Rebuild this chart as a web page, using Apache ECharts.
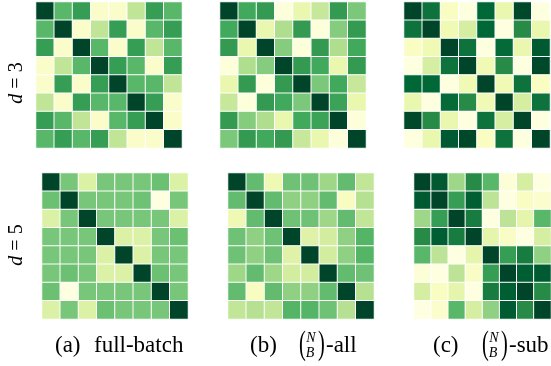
<!DOCTYPE html>
<html>
<head>
<meta charset="utf-8">
<script src="https://cdn.jsdelivr.net/npm/echarts@6/dist/echarts.min.js"></script>
<style>
  html, body { margin: 0; padding: 0; background: #ffffff; }
  #chart { width: 551px; height: 366px; }
</style>
</head>
<body>
<div id="chart"></div>
<script>
// Index labels shared by rows and columns of every matrix
const indices = ['0', '1', '2', '3', '4', '5', '6', '7'];

// d = 3, full-batch
const fullBatchD3 = [
  [1.00, 0.57, 0.67, 0.08, 0.08, 0.32, 0.67, 0.57],
  [0.57, 1.00, 0.08, 0.32, 0.67, 0.08, 0.57, 0.67],
  [0.67, 0.08, 1.00, 0.57, 0.08, 0.67, 0.32, 0.57],
  [0.08, 0.32, 0.57, 1.00, 0.67, 0.57, 0.08, 0.67],
  [0.08, 0.67, 0.08, 0.67, 1.00, 0.57, 0.57, 0.32],
  [0.32, 0.08, 0.67, 0.57, 0.57, 1.00, 0.67, 0.08],
  [0.67, 0.57, 0.32, 0.08, 0.57, 0.67, 1.00, 0.08],
  [0.57, 0.67, 0.57, 0.67, 0.32, 0.08, 0.08, 1.00]
];

// d = 3, (N choose B)-all
const allBatchesD3 = [
  [1.00, 0.63, 0.68, 0.03, 0.18, 0.30, 0.68, 0.49],
  [0.63, 1.00, 0.18, 0.37, 0.68, 0.03, 0.47, 0.68],
  [0.68, 0.18, 1.00, 0.47, 0.03, 0.68, 0.37, 0.63],
  [0.03, 0.37, 0.47, 1.00, 0.68, 0.63, 0.18, 0.68],
  [0.18, 0.68, 0.03, 0.68, 1.00, 0.49, 0.63, 0.30],
  [0.30, 0.03, 0.68, 0.63, 0.49, 1.00, 0.65, 0.18],
  [0.68, 0.47, 0.37, 0.18, 0.63, 0.65, 1.00, 0.03],
  [0.49, 0.68, 0.63, 0.68, 0.30, 0.18, 0.03, 1.00]
];

// d = 3, (N choose B)-sub
const subBatchesD3 = [
  [1.00, 0.83, 0.10, 0.02, 0.875, 0.18, 0.99, 0.02],
  [0.83, 1.00, 0.15, 0.26, 0.875, 0.02, 0.73, 0.18],
  [0.10, 0.15, 1.00, 0.83, 0.02, 0.86, 0.18, 0.925],
  [0.02, 0.26, 0.83, 1.00, 0.15, 0.73, 0.02, 0.99],
  [0.875, 0.875, 0.02, 0.15, 1.00, 0.15, 0.83, 0.10],
  [0.18, 0.02, 0.86, 0.73, 0.15, 1.00, 0.26, 0.83],
  [0.99, 0.73, 0.18, 0.02, 0.83, 0.26, 1.00, 0.02],
  [0.02, 0.18, 0.925, 0.99, 0.10, 0.83, 0.02, 1.00]
];

// d = 5, full-batch
const fullBatchD5 = [
  [1.00, 0.50, 0.24, 0.50, 0.50, 0.50, 0.53, 0.24],
  [0.53, 1.00, 0.50, 0.50, 0.50, 0.52, 0.01, 0.50],
  [0.24, 0.50, 1.00, 0.50, 0.50, 0.50, 0.50, 0.24],
  [0.50, 0.50, 0.50, 1.00, 0.24, 0.24, 0.50, 0.53],
  [0.50, 0.50, 0.50, 0.24, 1.00, 0.24, 0.50, 0.50],
  [0.50, 0.53, 0.50, 0.24, 0.24, 1.00, 0.53, 0.50],
  [0.53, 0.01, 0.50, 0.50, 0.50, 0.50, 1.00, 0.50],
  [0.24, 0.50, 0.24, 0.53, 0.50, 0.50, 0.50, 1.00]
];

// d = 5, (N choose B)-all
const allBatchesD5 = [
  [1.00, 0.55, 0.155, 0.52, 0.52, 0.41, 0.55, 0.315],
  [0.55, 1.00, 0.55, 0.445, 0.445, 0.55, 0.105, 0.35],
  [0.155, 0.55, 1.00, 0.52, 0.52, 0.41, 0.55, 0.315],
  [0.52, 0.445, 0.52, 1.00, 0.225, 0.27, 0.445, 0.58],
  [0.52, 0.445, 0.52, 0.225, 1.00, 0.27, 0.445, 0.58],
  [0.41, 0.55, 0.41, 0.27, 0.27, 1.00, 0.55, 0.52],
  [0.55, 0.105, 0.55, 0.445, 0.445, 0.55, 1.00, 0.35],
  [0.315, 0.35, 0.315, 0.58, 0.58, 0.52, 0.35, 1.00]
];

// d = 5, (N choose B)-sub
const subBatchesD5 = [
  [1.00, 0.93, 0.41, 0.73, 0.57, 0.04, 0.26, 0.01],
  [0.93, 1.00, 0.67, 0.91, 0.33, 0.01, 0.10, 0.07],
  [0.41, 0.67, 1.00, 0.79, 0.01, 0.33, 0.20, 0.57],
  [0.73, 0.91, 0.79, 1.00, 0.20, 0.09, 0.01, 0.26],
  [0.57, 0.33, 0.01, 0.20, 1.00, 0.67, 0.79, 0.445],
  [0.04, 0.01, 0.33, 0.09, 0.67, 1.00, 0.91, 0.92],
  [0.26, 0.10, 0.20, 0.01, 0.79, 0.91, 1.00, 0.73],
  [0.01, 0.07, 0.57, 0.26, 0.445, 0.92, 0.73, 1.00]
];

// Row labels and panel captions
const rowLabels = ['3', '5'];
const panelTags = ['(a)', '(b)', '(c)'];
const panelNames = ['full-batch', '-all', '-sub'];

// YlGn colour ramp
const ylGn = ['#ffffe5', '#f7fcb9', '#d9f0a3', '#addd8e', '#78c679',
              '#41ab5d', '#238443', '#006837', '#004529'];

const matrices = [fullBatchD3, allBatchesD3, subBatchesD3,
                  fullBatchD5, allBatchesD5, subBatchesD5];

// Panel placement (px)
const panelBoxes = [
  { left: 36,  top: 2,   width: 146, height: 146 },
  { left: 220, top: 2,   width: 146, height: 146 },
  { left: 404, top: 2,   width: 146, height: 146 },
  { left: 42,  top: 173, width: 146, height: 146 },
  { left: 228, top: 173, width: 146, height: 146 },
  { left: 414, top: 173, width: 146, height: 146 }
];

function toCells(m) {
  const out = [];
  m.forEach((row, r) => row.forEach((v, c) => out.push([c, r, v])));
  return out;
}

const grids = [], xAxes = [], yAxes = [], series = [];
matrices.forEach((m, i) => {
  grids.push(Object.assign({ containLabel: false }, panelBoxes[i]));
  xAxes.push({ type: 'category', data: indices, gridIndex: i, show: false });
  yAxes.push({ type: 'category', data: indices, gridIndex: i, show: false, inverse: true });
  series.push({
    type: 'heatmap',
    xAxisIndex: i,
    yAxisIndex: i,
    data: toCells(m),
    itemStyle: { borderColor: '#ffffff', borderWidth: 1 },
    emphasis: { disabled: true },
    silent: true
  });
});

const serif = '"Liberation Serif", "DejaVu Serif", serif';
const capY = 346;
const capSize = 23;

function plainText(x, y, text, size, align, italic) {
  return {
    type: 'text', x: x, y: y, silent: true,
    style: {
      text: text,
      font: (italic ? 'italic ' : '') + size + 'px ' + serif,
      fill: '#000000',
      align: align || 'left',
      verticalAlign: 'middle'
    }
  };
}

// Tall, narrow parenthesis for the binomial
function bigParen(x, ch) {
  const el = plainText(x, capY - 1, ch, 34, 'left');
  el.scaleX = 0.6;
  return el;
}

// Binomial caption: "(x) (N over B)-name"
function binomCaption(x0, tag, name) {
  return [
    plainText(x0, capY, tag, capSize, 'left'),
    bigParen(x0 + 49, '('),
    plainText(x0 + 61, capY - 8, 'N', 14, 'center', true),
    plainText(x0 + 60, capY + 7, 'B', 14, 'center', true),
    bigParen(x0 + 68, ')'),
    plainText(x0 + 76, capY, name, capSize, 'left')
  ];
}

const graphics = [];
// Row labels, rotated to read upward
[83, 245].forEach((cy, k) => {
  graphics.push({
    type: 'text', x: 17, y: cy, rotation: Math.PI / 2, silent: true,
    style: {
      text: '{i|d} = ' + rowLabels[k],
      font: '20px ' + serif,
      fill: '#000000',
      align: 'center',
      verticalAlign: 'middle',
      rich: { i: { font: 'italic 20px ' + serif } }
    }
  });
});
graphics.push(plainText(55, capY, panelTags[0], capSize, 'left'));
graphics.push(plainText(94, capY, panelNames[0], capSize, 'left'));
binomCaption(250, panelTags[1], panelNames[1]).forEach(e => graphics.push(e));
binomCaption(433, panelTags[2], panelNames[2]).forEach(e => graphics.push(e));

const chart = echarts.init(document.getElementById('chart'), null, { renderer: 'canvas' });
chart.setOption({
  animation: false,
  backgroundColor: '#ffffff',
  grid: grids,
  xAxis: xAxes,
  yAxis: yAxes,
  visualMap: {
    type: 'continuous', show: false, min: 0, max: 1,
    seriesIndex: [0, 1, 2, 3, 4, 5],
    inRange: { color: ylGn }
  },
  series: series,
  graphic: { elements: graphics }
});
</script>
</body>
</html>
